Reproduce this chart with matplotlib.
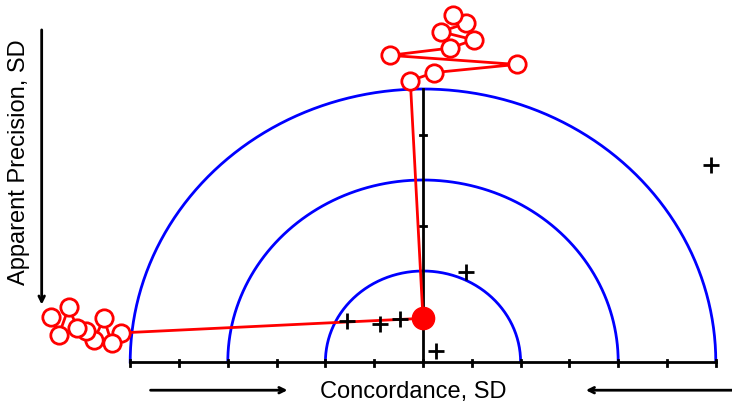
import numpy as np
import matplotlib.pyplot as plt

plt.rcParams['font.family'] = ['Liberation Sans', 'DejaVu Sans']

# centre point
centre = (0.0, 0.48)

# trajectory going up (precision)
top_x = [-0.13, 0.11, 0.96, -0.34, 0.28, 0.52, 0.18, 0.44, 0.31]
top_y = [3.09, 3.18, 3.27, 3.37, 3.45, 3.54, 3.63, 3.72, 3.81]

# trajectory going left (concordance)
left_x = [-3.09, -3.19, -3.27, -3.37, -3.45, -3.54, -3.63, -3.73, -3.81]
left_y = [0.32, 0.21, 0.48, 0.24, 0.34, 0.37, 0.60, 0.30, 0.50]

# other points
plus_x = [-0.78, -0.44, -0.24, 0.44, 0.13, 2.95]
plus_y = [0.45, 0.42, 0.47, 0.99, 0.12, 2.16]

radii = [1, 2, 3]

fig = plt.figure(figsize=(7.32, 4.08), dpi=100)
ax = fig.add_axes([0, 0, 1, 1])
ax.set_xlim(-423 / 97.6, 309 / 97.6)
ax.set_ylim(-46 / 91, 362 / 91)
ax.axis('off')

# semicircles
t = np.linspace(0, np.pi, 300)
for r in radii:
    ax.plot(r * np.cos(t), r * np.sin(t), color='#0000ff', lw=2, zorder=2)

# horizontal axis
ax.plot([-3, 3], [0, 0], color='black', lw=2, zorder=3)
for xt in np.arange(-3, 3.01, 0.5):
    ax.plot([xt, xt], [-0.045, 0.02], color='black', lw=2, zorder=3)

# vertical axis
ax.plot([0, 0], [0, 3], color='black', lw=2, zorder=3)
for yt in [0.5, 1.5, 2.5]:
    ax.plot([-0.035, 0.035], [yt, yt], color='black', lw=2, zorder=3)

# trajectories
ax.plot([centre[0]] + top_x, [centre[1]] + top_y, color='red', lw=2, zorder=4)
ax.plot([centre[0]] + left_x, [centre[1]] + left_y, color='red', lw=2, zorder=4)
ax.plot(top_x, top_y, 'o', ms=12.5, mfc='white', mec='red', mew=2, zorder=5)
ax.plot(left_x, left_y, 'o', ms=12.5, mfc='white', mec='red', mew=2, zorder=5)
ax.plot(*centre, 'o', ms=16, color='red', zorder=6)

ax.plot(plus_x, plus_y, '+', ms=12, mew=2, color='black', zorder=6)

# axis labels with arrows
ax.text(-0.1, -0.33, 'Concordance, SD', ha='center', va='center', fontsize=17)
ax.annotate('', xy=(-1.36, -0.31), xytext=(-2.82, -0.31),
            arrowprops=dict(arrowstyle='->', lw=2, color='black'))
ax.annotate('', xy=(1.64, -0.31), xytext=(3.2, -0.31),
            arrowprops=dict(arrowstyle='->', lw=2, color='black'))

ax.text(-4.14, 2.2, 'Apparent Precision, SD', rotation=90,
        ha='center', va='center', fontsize=17)
ax.annotate('', xy=(-3.907, 0.6), xytext=(-3.907, 3.68),
            arrowprops=dict(arrowstyle='->', lw=2, color='black'))

fig.savefig('out.png', dpi=100)
